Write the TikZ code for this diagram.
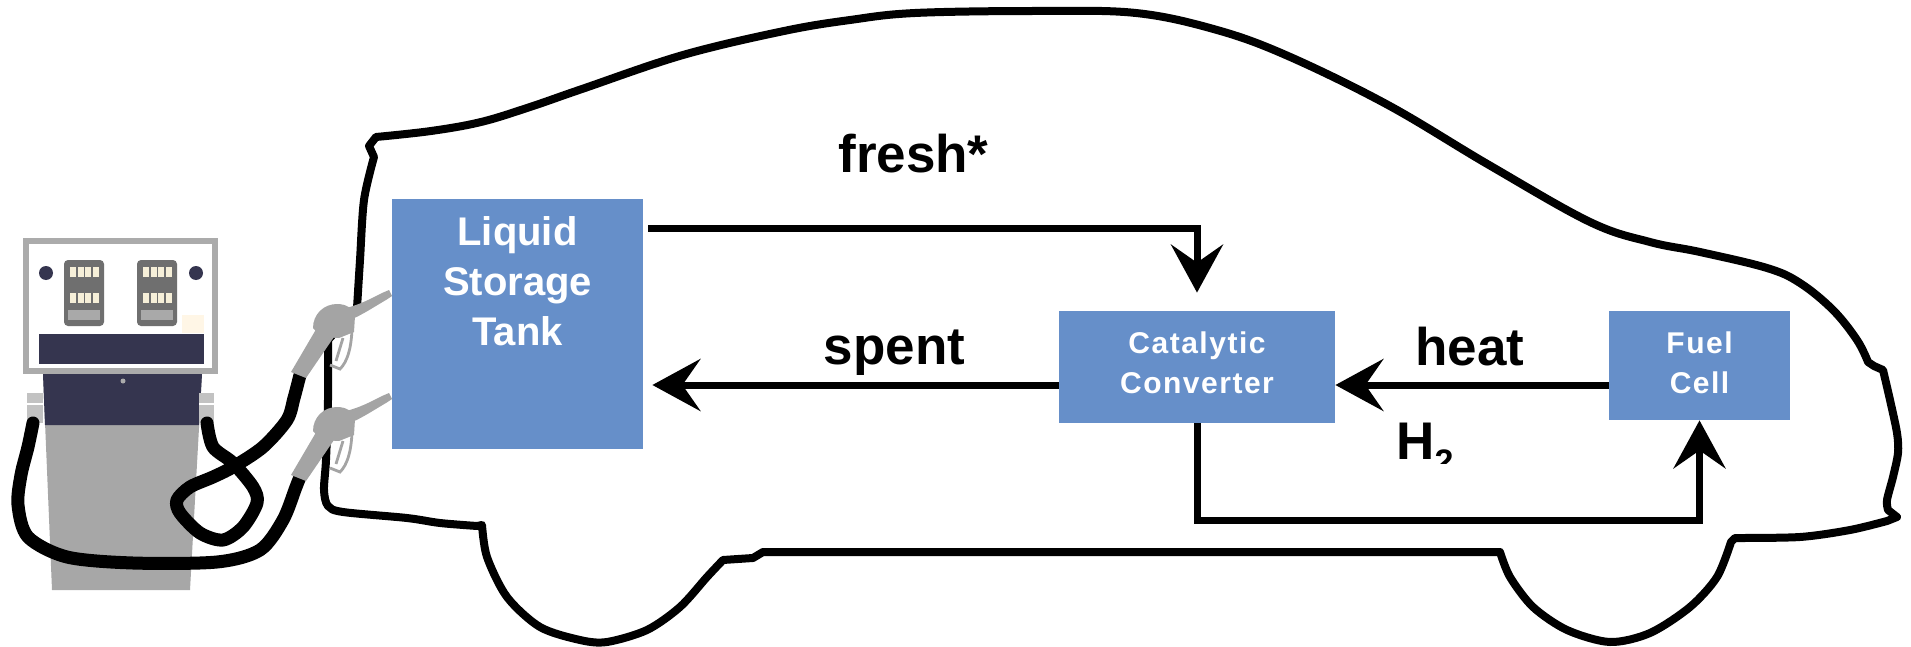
\documentclass[tikz,border=0pt]{standalone}
\usepackage{fontspec}
\setmainfont{Liberation Sans}
\newfontfamily\cellfont[LetterSpace=5]{Liberation Sans}
\usetikzlibrary{arrows.meta,calc}
\definecolor{boxblue}{HTML}{668FC9}
\definecolor{navy}{HTML}{35354F}
\definecolor{pumpgrey}{HTML}{A7A7A7}
\definecolor{pumpedge}{HTML}{ABABAB}
\definecolor{panel}{HTML}{6F6F6F}
\definecolor{panelbar}{HTML}{A9A9A9}
\definecolor{cell}{HTML}{F6EFD8}
\definecolor{cream}{HTML}{FFF6E6}
\definecolor{conn}{HTML}{C2C2C2}
\definecolor{nozzlegrey}{HTML}{A4A4A4}
\begin{document}
\begin{tikzpicture}[x=0.5pt,y=-0.5pt,
  box/.style={fill=boxblue,draw=none,inner sep=0pt},
  tanktext/.style={text=white,align=center,inner sep=0pt,
    font={\fontsize{20pt}{25pt}\selectfont\bfseries}},
  celltext/.style={text=white,align=center,inner sep=0pt,
    font={\cellfont\fontsize{15pt}{20pt}\selectfont\bfseries}},
  lbl/.style={inner sep=0pt,font={\fontsize{26.5pt}{30pt}\selectfont\bfseries}},
  flow/.style={line width=3.5pt,-{Stealth[length=24pt,width=26pt,inset=9pt]}},
  carline/.style={line width=4pt,line join=round},
  hose/.style={line width=6.5pt,line cap=round,line join=round}]
\useasboundingbox (0,0) rectangle (1911,647);

% car body outline
\draw[carline]
  plot[smooth,tension=0.6] coordinates {(376,137) (431,131) (481,122) (530,107) (582,89)
    (683,55) (784,31) (850,20) (915,13) (1036,11) (1136,13) (1217,30) (1288,56)
    (1388,105) (1489,165) (1590,222) (1650,242) (1700,252) (1767,268) (1800,283)
    (1833,310) (1857,340) (1868,362)}
  -- (1874,366) -- (1883,370)
  -- plot[smooth] coordinates {(1883,370) (1890,400) (1897,433) (1898,453) (1893,477)
    (1887,500) (1888,510)}
  -- (1897,517) -- (1887,521)
  -- plot[smooth] coordinates {(1887,521) (1850,530) (1800,537) (1735,538)}
  -- (1731,542)
  -- plot[smooth] coordinates {(1731,542) (1717,577) (1690,607) (1650,633) (1610,642)
    (1567,630) (1533,607) (1510,577) (1500,552)}
  -- (763,552) -- (753,558) -- (723,560)
  -- plot[smooth] coordinates {(723,560) (707,577) (680,607) (647,630) (607,642)
    (580,640) (540,627) (507,597) (487,557) (482,525)}
  -- (477,526)
  -- plot[smooth] coordinates {(477,526) (440,523) (407,518) (343,512) (328,506)
    (324,490) (326,460) (328,400) (328,340)}
  -- (357,308)
  -- plot[smooth] coordinates {(357,308) (360,260) (364,200) (374,157)}
  -- (369,146) -- cycle;

% fuel pump: head
\draw[pumpedge,line width=3pt,fill=white] (26,241) rectangle (215,371);
\fill[navy] (39,334) rectangle (204,364);
\fill[cream] (182,315) rectangle (204,333);
\fill[navy] (46,273) circle (7);
\fill[navy] (196,273) circle (7);
\foreach \px in {64,137}{
  \fill[panel,rounded corners=2pt] (\px,260) rectangle ++(40,66);
  \foreach \row in {267,293}
    \foreach \c in {0,...,3}
      \fill[cell] (\px+6+\c*7.5,\row) rectangle ++(6,10);
  \fill[panelbar] (\px+4,310) rectangle ++(32,10);
}
% fuel pump: body
\fill[pumpgrey] (43,374) -- (202,374) -- (190,590) -- (52,590) -- cycle;
\fill[navy] (43,374) -- (202,374) -- (199,425) -- (45,425) -- cycle;
\fill[pumpedge] (123,381) circle (2.5);
\fill[conn] (27,393) rectangle (43,423);
\fill[conn] (199,393) rectangle (214,423);
\draw[white,line width=0.6pt] (27,404) -- (43,404) (199,404) -- (214,404);

% hoses
\draw[hose] plot[smooth] coordinates {(33,423) (28,447) (21,475) (18,505) (28,537)
  (67,557) (133,563) (217,562) (260,550) (283,520) (296,487) (302,472)};
\draw[hose] plot[smooth] coordinates {(207,423) (213,447) (233,463) (253,487) (257,503)
  (243,527) (223,540) (200,533) (180,513) (177,500) (190,487) (213,477) (233,467)
  (263,447) (287,420) (294,398) (300,375)};

% nozzles
\foreach \dy in {0,103}{
  \begin{scope}[shift={(0,\dy)}]
    \fill[nozzlegrey] (342,309) .. controls (360,305) and (372,298) .. (382,293)
      -- (389,290) -- (392,296) -- (386,300) .. controls (374,307) and (362,315) .. (350,320) -- cycle;
    \fill[nozzlegrey] (313,328) .. controls (313,314) and (324,304) .. (337,304)
      .. controls (346,304) and (353,308) .. (355,316) -- (354,332) -- (339,338) -- (321,337) -- cycle;
    \fill[nozzlegrey] (318,326) -- (336,334) -- (306,378) -- (291,372) -- cycle;
    \draw[nozzlegrey,line width=1.4pt] (352,330) .. controls (351,350) and (347,362) .. (340,369) -- (330,365);
    \draw[nozzlegrey,line width=1.4pt] (343,338) -- (336,361);
  \end{scope}
}

% system blocks
\node[box,minimum width=125.5pt,minimum height=125pt] (tank) at (517.5,324) {};
\node[tanktext,anchor=north] (tanklabel) at (517.5,216) {Liquid\\Storage\\Tank};
\node[box,minimum width=138pt,minimum height=56pt] (cat) at (1197,367) {};
\node[celltext,anchor=north] (catlabel) at (1197,331) {Catalytic\\Converter};
\node[box,minimum width=90.5pt,minimum height=54.5pt] (fuel) at (1699.5,365.5) {};
\node[celltext,anchor=north] (fuellabel) at (1699.5,331) {Fuel\\Cell};

% flows
\draw[flow] ($(tank.north east)+(5,30)$) -| ($(cat.north)+(0,-18)$);
\draw[flow] ($(cat.west)+(0,18)$) -- ($(cat.west -| tank.east)+(9,18)$);
\draw[flow] ($(cat.west -| fuel.west)+(0,18)$) -- ($(cat.east)+(0,18)$);
\draw[flow] (cat.south) -- ++(0,97) -| (fuel.south);

% flow labels
\node[lbl,anchor=base] (fresh) at (913.5,172) {fresh*};
\node[lbl,anchor=base] (spent) at (894.5,364) {spent};
\node[lbl,anchor=base] (heat) at (1470,365) {heat};
\begin{scope}
  \clip (1380,400) rectangle (1480,463);
  \node[lbl,anchor=base west] (htwo) at (1396,459)
    {H\raisebox{-7pt}{\fontsize{17pt}{17pt}\selectfont 2}};
\end{scope}
\end{tikzpicture}
\end{document}
